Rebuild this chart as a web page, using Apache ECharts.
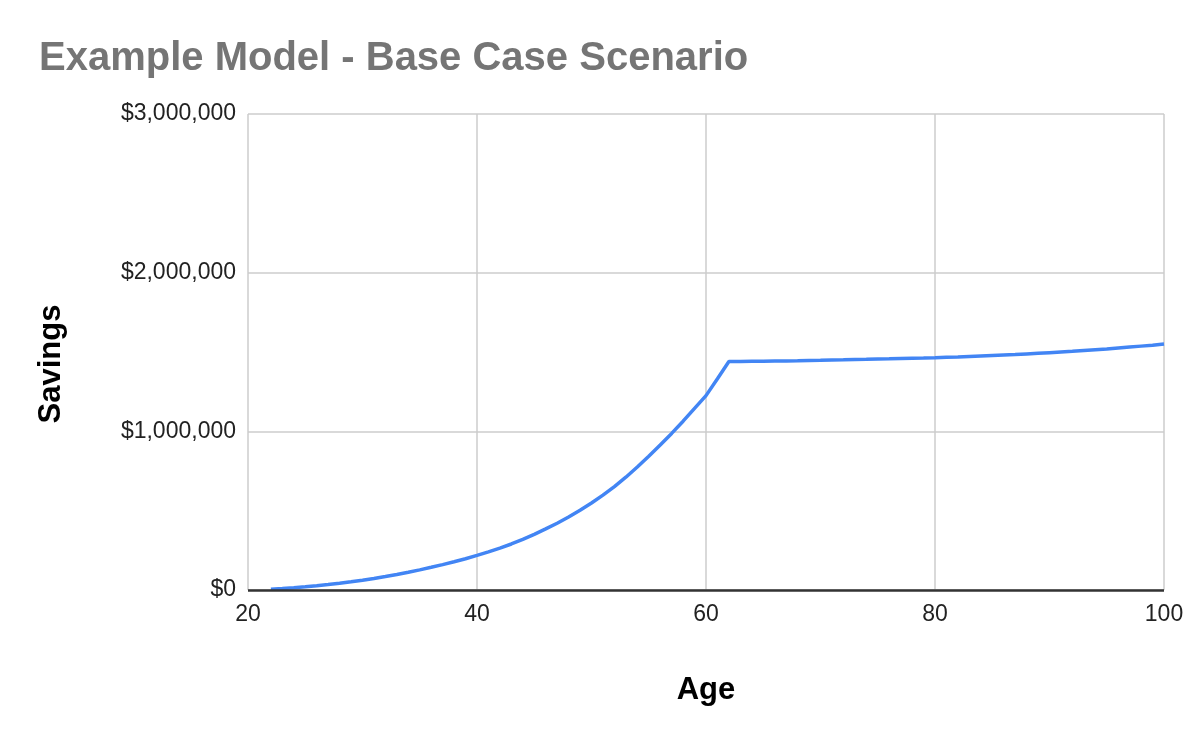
<!DOCTYPE html>
<html>
<head>
<meta charset="utf-8">
<script src="https://cdn.jsdelivr.net/npm/echarts@6/dist/echarts.min.js"></script>
<style>
  html, body { margin: 0; padding: 0; background: #fff; }
  #chart { width: 1202px; height: 744px; }
</style>
</head>
<body>
<div id="chart"></div>
<script>
// 年龄 (22 - 100)
const ages = [
  22, 23, 24, 25, 26, 27, 28, 29, 30, 31, 32, 33, 34, 35, 36, 37, 38, 39, 40,
  41, 42, 43, 44, 45, 46, 47, 48, 49, 50, 51, 52, 53, 54, 55, 56, 57, 58, 59, 60,
  61, 62, 63, 64, 65, 66, 67, 68, 69, 70, 71, 72, 73, 74, 75, 76, 77, 78, 79, 80,
  81, 82, 83, 84, 85, 86, 87, 88, 89, 90, 91, 92, 93, 94, 95, 96, 97, 98, 99, 100
];

// 储蓄
const savings = [
  4000, 9000, 14500, 20500, 27000, 34000, 42000, 51500, 62000, 73000,
  85000, 98000, 112000, 127000, 143000, 160000, 178000, 197000, 218000,
  240000, 264000, 290000, 319000, 351000, 385000, 421000, 460000, 502000, 548000,
  598000, 652000, 711000, 775000, 843000, 914000, 987000, 1064000, 1145000, 1225000,
  1332000, 1440000, 1440000, 1441000, 1442000, 1443000, 1444000, 1445000, 1447000, 1448000,
  1450000, 1451000, 1453000, 1454000, 1456000, 1457000, 1459000, 1461000, 1462000, 1464000,
  1467000, 1469000, 1472000, 1475000, 1478000, 1481000, 1484000, 1488000, 1492000, 1496000,
  1500000, 1504000, 1509000, 1514000, 1519000, 1525000, 1531000, 1537000, 1543000, 1550000
];

const xTicks = { min: 20, max: 100, interval: 20 };
const yTicks = { min: 0, max: 3000000, interval: 1000000 };

const chart = echarts.init(document.getElementById('chart'));

const font = '"Liberation Sans", Arial, sans-serif';

const option = {
  animation: false,
  title: {
    text: 'Example Model - Base Case Scenario',
    left: 34,
    top: 34,
    textStyle: {
      fontFamily: font,
      fontSize: 40,
      fontWeight: 'bold',
      color: '#757575'
    }
  },
  grid: {
    left: 248,
    right: 38,
    top: 114,
    bottom: 154
  },
  xAxis: {
    type: 'value',
    min: xTicks.min,
    max: xTicks.max,
    interval: xTicks.interval,
    name: 'Age',
    nameLocation: 'middle',
    nameGap: 85,
    nameTextStyle: {
      fontFamily: font,
      fontSize: 31,
      fontWeight: 'bold',
      color: '#000'
    },
    axisLine: { show: false },
    axisTick: { show: false },
    axisLabel: {
      margin: 13,
      fontFamily: font,
      fontSize: 23,
      color: '#222'
    },
    splitLine: { show: true, lineStyle: { color: '#cccccc', width: 1.5 } }
  },
  yAxis: {
    type: 'value',
    min: yTicks.min,
    max: yTicks.max,
    interval: yTicks.interval,
    name: 'Savings',
    nameLocation: 'middle',
    nameGap: 181,
    nameTextStyle: {
      fontFamily: font,
      fontSize: 31,
      fontWeight: 'bold',
      color: '#000',
      padding: [0, 24, 0, 0]
    },
    axisLine: { show: false },
    axisTick: { show: false },
    axisLabel: {
      margin: 12,
      fontFamily: font,
      fontSize: 23,
      color: '#222',
      formatter: v => '$' + v.toLocaleString('en-US')
    },
    splitLine: {
      show: true,
      lineStyle: { color: '#cccccc', width: 1.5 }
    }
  },
  series: [{
    type: 'line',
    data: ages.map((a, i) => [a, savings[i]]),
    showSymbol: false,
    lineStyle: { color: '#4285f4', width: 3.5 },
    markLine: {
      silent: true,
      symbol: 'none',
      label: { show: false },
      lineStyle: { color: '#333333', width: 2.5, type: 'solid' },
      data: [{ yAxis: 0 }]
    },
    z: 3
  }]
};

chart.setOption(option);

window.addEventListener('resize', () => {
  chart.resize();
});
</script>
</body>
</html>
